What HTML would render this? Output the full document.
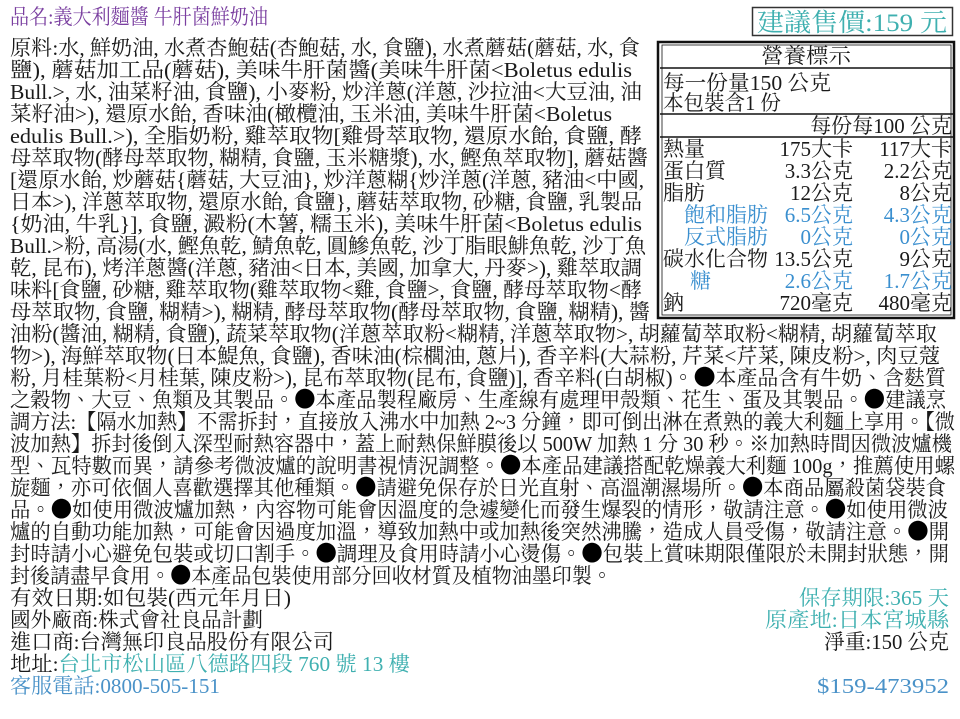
<!DOCTYPE html>
<html><head><meta charset="utf-8"><style>
html,body{margin:0;padding:0;background:#fff}
svg{display:block}
text{font-family:"Liberation Serif","Noto Serif CJK TC","Noto Serif CJK SC",serif;font-size:21px;fill:#1a1a1a}
.b{fill:#3a8fcf}.t{fill:#3fb0b0}.p{fill:#7a3fa0}.c{fill:#4a92c8}
.d{font-family:"Noto Sans CJK TC","Noto Sans CJK SC",sans-serif;font-size:22px;fill:#000}
</style></head><body>
<svg width="960" height="719" viewBox="0 0 960 719" xmlns="http://www.w3.org/2000/svg">
<rect width="960" height="719" fill="#fff"/>
<text class="p" x="10" y="24" textLength="258" lengthAdjust="spacingAndGlyphs">品名:義大利麵醬 牛肝菌鮮奶油</text>
<rect x="752.5" y="7.5" width="200" height="28" fill="none" stroke="#333" stroke-width="1.5"/>
<text class="t" x="757" y="31" style="font-size:25px" textLength="190" lengthAdjust="spacingAndGlyphs">建議售價:159 元</text>
<g>
<text x="10" y="55" textLength="630" lengthAdjust="spacingAndGlyphs">原料:水, 鮮奶油, 水煮杏鮑菇(杏鮑菇, 水, 食鹽), 水煮蘑菇(蘑菇, 水, 食</text>
<text x="10" y="77" textLength="622" lengthAdjust="spacingAndGlyphs">鹽), 蘑菇加工品(蘑菇), 美味牛肝菌醬(美味牛肝菌&lt;Boletus edulis</text>
<text x="10" y="99" textLength="632" lengthAdjust="spacingAndGlyphs">Bull.&gt;, 水, 油菜籽油, 食鹽), 小麥粉, 炒洋蔥(洋蔥, 沙拉油&lt;大豆油, 油</text>
<text x="10" y="121" textLength="602" lengthAdjust="spacingAndGlyphs">菜籽油&gt;), 還原水飴, 香味油(橄欖油, 玉米油, 美味牛肝菌&lt;Boletus</text>
<text x="10" y="143" textLength="632" lengthAdjust="spacingAndGlyphs">edulis Bull.&gt;), 全脂奶粉, 雞萃取物[雞骨萃取物, 還原水飴, 食鹽, 酵</text>
<text x="10" y="165" textLength="638" lengthAdjust="spacingAndGlyphs">母萃取物(酵母萃取物, 糊精, 食鹽, 玉米糖漿), 水, 鰹魚萃取物], 蘑菇醬</text>
<text x="10" y="187" textLength="634" lengthAdjust="spacingAndGlyphs">[還原水飴, 炒蘑菇{蘑菇, 大豆油}, 炒洋蔥糊{炒洋蔥(洋蔥, 豬油&lt;中國,</text>
<text x="10" y="209" textLength="632" lengthAdjust="spacingAndGlyphs">日本&gt;), 洋蔥萃取物, 還原水飴, 食鹽}, 蘑菇萃取物, 砂糖, 食鹽, 乳製品</text>
<text x="10" y="231" textLength="632" lengthAdjust="spacingAndGlyphs">{奶油, 牛乳}], 食鹽, 澱粉(木薯, 糯玉米), 美味牛肝菌&lt;Boletus edulis</text>
<text x="10" y="253" textLength="636" lengthAdjust="spacingAndGlyphs">Bull.&gt;粉, 高湯(水, 鰹魚乾, 鯖魚乾, 圓鰺魚乾, 沙丁脂眼鯡魚乾, 沙丁魚</text>
<text x="10" y="275" textLength="632" lengthAdjust="spacingAndGlyphs">乾, 昆布), 烤洋蔥醬(洋蔥, 豬油&lt;日本, 美國, 加拿大, 丹麥&gt;), 雞萃取調</text>
<text x="10" y="297" textLength="632" lengthAdjust="spacingAndGlyphs">味料[食鹽, 砂糖, 雞萃取物(雞萃取物&lt;雞, 食鹽&gt;, 食鹽, 酵母萃取物&lt;酵</text>
<text x="10" y="319" textLength="640" lengthAdjust="spacingAndGlyphs">母萃取物, 食鹽, 糊精&gt;), 糊精, 酵母萃取物(酵母萃取物, 食鹽, 糊精), 醬</text>
<text x="10" y="341" textLength="927" lengthAdjust="spacingAndGlyphs">油粉(醬油, 糊精, 食鹽), 蔬菜萃取物(洋蔥萃取粉&lt;糊精, 洋蔥萃取物&gt;, 胡蘿蔔萃取粉&lt;糊精, 胡蘿蔔萃取</text>
<text x="10" y="363" textLength="930" lengthAdjust="spacingAndGlyphs">物&gt;), 海鮮萃取物(日本鯷魚, 食鹽), 香味油(棕櫚油, 蔥片), 香辛料(大蒜粉, 芹菜&lt;芹菜, 陳皮粉&gt;, 肉豆蔻</text>
<text x="10" y="385" textLength="936" lengthAdjust="spacingAndGlyphs">粉, 月桂葉粉&lt;月桂葉, 陳皮粉&gt;), 昆布萃取物(昆布, 食鹽)], 香辛料(白胡椒)。<tspan class="d">●</tspan>本產品含有牛奶、含麩質</text>
<text x="10" y="407" textLength="936" lengthAdjust="spacingAndGlyphs">之穀物、大豆、魚類及其製品。<tspan class="d">●</tspan>本產品製程廠房、生產線有處理甲殼類、花生、蛋及其製品。<tspan class="d">●</tspan>建議烹</text>
<text x="10" y="429" textLength="945" lengthAdjust="spacingAndGlyphs">調方法:【隔水加熱】不需拆封，直接放入沸水中加熱 2~3 分鐘，即可倒出淋在煮熟的義大利麵上享用。【微</text>
<text x="10" y="451" textLength="942" lengthAdjust="spacingAndGlyphs">波加熱】拆封後倒入深型耐熱容器中，蓋上耐熱保鮮膜後以 500W 加熱 1 分 30 秒。※加熱時間因微波爐機</text>
<text x="10" y="473" textLength="945" lengthAdjust="spacingAndGlyphs">型、瓦特數而異，請參考微波爐的說明書視情況調整。<tspan class="d">●</tspan>本產品建議搭配乾燥義大利麵 100g，推薦使用螺</text>
<text x="10" y="495" textLength="936" lengthAdjust="spacingAndGlyphs">旋麵，亦可依個人喜歡選擇其他種類。<tspan class="d">●</tspan>請避免保存於日光直射、高溫潮濕場所。<tspan class="d">●</tspan>本商品屬殺菌袋裝食</text>
<text x="10" y="517" textLength="938" lengthAdjust="spacingAndGlyphs">品。<tspan class="d">●</tspan>如使用微波爐加熱，內容物可能會因溫度的急遽變化而發生爆裂的情形，敬請注意。<tspan class="d">●</tspan>如使用微波</text>
<text x="10" y="539" textLength="939" lengthAdjust="spacingAndGlyphs">爐的自動功能加熱，可能會因過度加溫，導致加熱中或加熱後突然沸騰，造成人員受傷，敬請注意。<tspan class="d">●</tspan>開</text>
<text x="10" y="561" textLength="939" lengthAdjust="spacingAndGlyphs">封時請小心避免包裝或切口割手。<tspan class="d">●</tspan>調理及食用時請小心燙傷。<tspan class="d">●</tspan>包裝上賞味期限僅限於未開封狀態，開</text>
<text x="10" y="583" textLength="602" lengthAdjust="spacingAndGlyphs">封後請盡早食用。<tspan class="d">●</tspan>本產品包裝使用部分回收材質及植物油墨印製。</text>
<text x="10" y="605" textLength="281" lengthAdjust="spacingAndGlyphs">有效日期:如包裝(西元年月日)</text>
<text x="10" y="627" textLength="253" lengthAdjust="spacingAndGlyphs">國外廠商:株式會社良品計劃</text>
<text x="10" y="649" textLength="324" lengthAdjust="spacingAndGlyphs">進口商:台灣無印良品股份有限公司</text>
<text x="10" y="671" textLength="400" lengthAdjust="spacingAndGlyphs">地址:<tspan class="t">台北市松山區八德路四段 760 號 13 樓</tspan></text>
<text class="c" x="10" y="693" textLength="210" lengthAdjust="spacingAndGlyphs">客服電話:0800-505-151</text>
<text class="t" x="799" y="605" textLength="150" lengthAdjust="spacingAndGlyphs">保存期限:365 天</text>
<text class="t" x="765" y="627" textLength="184" lengthAdjust="spacingAndGlyphs">原產地:日本宮城縣</text>
<text x="824" y="649" textLength="125" lengthAdjust="spacingAndGlyphs">淨重:150 公克</text>
<text class="c" x="817" y="693" textLength="132" lengthAdjust="spacingAndGlyphs">$159-473952</text>
</g>
<rect x="658" y="42" width="296" height="276" fill="#fff" stroke="#111" stroke-width="2.5"/>
<rect x="662" y="45" width="289" height="270" fill="none" stroke="#111" stroke-width="0.8"/>
<line x1="660" y1="68" x2="953" y2="68" stroke="#111" stroke-width="1.5"/>
<line x1="660" y1="114" x2="953" y2="114" stroke="#111" stroke-width="1.5"/>
<line x1="660" y1="137" x2="953" y2="137" stroke="#111" stroke-width="1.5"/>
<text x="806" y="63" text-anchor="middle" textLength="90" lengthAdjust="spacingAndGlyphs">營養標示</text>
<text x="663" y="90" textLength="168" lengthAdjust="spacingAndGlyphs">每一份量150 公克</text>
<text x="663" y="110" textLength="118" lengthAdjust="spacingAndGlyphs">本包裝含1 份</text>
<text x="952" y="133" text-anchor="end">每份每100 公克</text>
<g text-anchor="start">
<text x="663" y="156">熱量</text>
<text x="663" y="178">蛋白質</text>
<text x="663" y="200">脂肪</text>
<text class="b" x="684" y="222">飽和脂肪</text>
<text class="b" x="684" y="244">反式脂肪</text>
<text x="663" y="266">碳水化合物</text>
<text class="b" x="690" y="288">糖</text>
<text x="663" y="310">鈉</text>
</g>
<g text-anchor="end">
<text x="853" y="156">175大卡</text><text x="952" y="156">117大卡</text>
<text x="853" y="178">3.3公克</text><text x="952" y="178">2.2公克</text>
<text x="853" y="200">12公克</text><text x="952" y="200">8公克</text>
<text class="b" x="853" y="222">6.5公克</text><text class="b" x="952" y="222">4.3公克</text>
<text class="b" x="853" y="244">0公克</text><text class="b" x="952" y="244">0公克</text>
<text x="853" y="266">13.5公克</text><text x="952" y="266">9公克</text>
<text class="b" x="853" y="288">2.6公克</text><text class="b" x="952" y="288">1.7公克</text>
<text x="853" y="310">720毫克</text><text x="952" y="310">480毫克</text>
</g>
</svg>
</body></html>
